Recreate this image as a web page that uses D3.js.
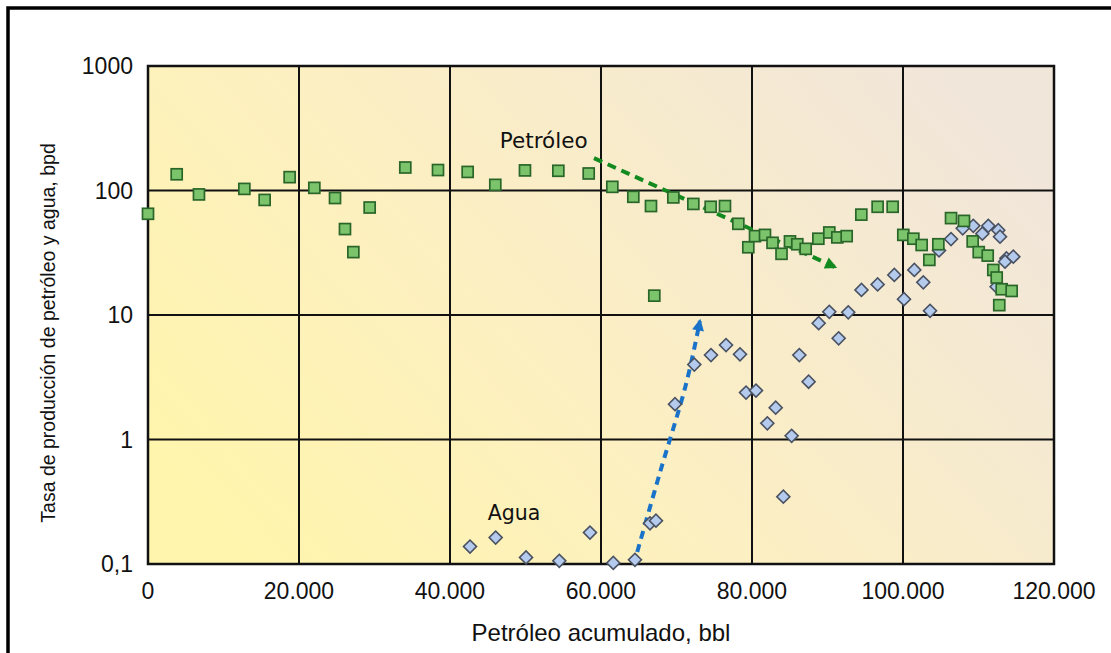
<!DOCTYPE html>
<html>
<head>
<meta charset="utf-8">
<script src="https://cdn.jsdelivr.net/npm/d3@7"></script>
<style>
  body { margin: 0; background: white; }
  svg { display: block; }
</style>
</head>
<body>
<div id="chart"></div>
<script>
// oil rate (green squares)
const oilX = [0, 3800, 6750, 12760, 15450, 18760, 22030, 24770, 26090, 27200, 29360, 34080, 38410,
  42340, 46000, 49930, 54350, 58370, 61500, 64280, 66620, 67060, 69580, 72230, 74530, 76420, 78190,
  79510, 80400, 81720, 82720, 83910, 85030, 86000, 87110, 88790, 90240, 91300, 92540, 94480, 96640,
  98630, 100040, 101370, 102470, 103490, 104680, 106360, 108080, 109230, 110030, 111220, 111960,
  112410, 113070, 114390, 112750];
const oilY = [65, 135, 93, 103, 84, 128, 105, 87, 49, 32, 73, 153, 146,
  141, 111, 145, 144, 137, 107, 89, 75, 14.3, 88, 78, 74, 75, 54,
  35, 43, 44, 38, 31, 39, 37, 34, 41, 46, 42, 43, 64, 74,
  74, 44, 41, 36.5, 27.7, 37, 60, 57, 39, 32, 30, 23,
  20, 16.1, 15.6, 12];

// water rate (blue diamonds)
const waterX = [42650, 46050, 50070, 54480, 58540, 61630, 64500, 66490, 67280, 69800, 72360, 74570,
  76560, 78410, 79210, 80530, 82030, 83140, 84150, 85250, 86270, 87500, 88830, 90240, 91480, 92750,
  94500, 96640, 98850, 100130, 101500, 102690, 103580, 104770, 106360, 107910, 109310, 110510,
  111300, 112620, 112850, 113700, 113510, 114610, 112400];
const waterY = [0.138, 0.163, 0.113, 0.106, 0.179, 0.102, 0.108, 0.212, 0.223, 1.92, 4.0, 4.77,
  5.74, 4.83, 2.38, 2.47, 1.35, 1.80, 0.347, 1.07, 4.77, 2.91, 8.6, 10.6, 6.5, 10.5,
  15.9, 17.6, 21, 13.4, 23, 18.3, 10.8, 33, 40.7, 49.7, 52, 45,
  52, 48, 42.6, 28.5, 26.8, 29.4, 16.9];

const xTicks = [0, 20000, 40000, 60000, 80000, 100000, 120000];
const yTicks = [0.1, 1, 10, 100, 1000];

// trend arrows
const oilArrowX = [59070, 90990];
const oilArrowY = [182, 24.3];
const waterArrowX = [64800, 67800, 71300, 73100];
const waterArrowY = [0.125, 0.54, 2.84, 8.95];

const W = 1111, H = 653;
const svg = d3.select("#chart").append("svg").attr("width", W).attr("height", H);

const x = d3.scaleLinear().domain([0, 120000]).range([148, 1054]);
const y = d3.scaleLog().domain([0.1, 1000]).range([564, 66]);

// outer frame
svg.append("rect")
  .attr("x", 8).attr("y", 8).attr("width", 1200).attr("height", 800)
  .attr("fill", "none").attr("stroke", "#000").attr("stroke-width", 3.5);

const defs = svg.append("defs");
const grad = defs.append("linearGradient").attr("id", "bg")
  .attr("x1", "0").attr("y1", "0.75").attr("x2", "1").attr("y2", "0.25");
grad.append("stop").attr("offset", "0").attr("stop-color", "#fff5ad");
grad.append("stop").attr("offset", "0.45").attr("stop-color", "#fcefc3");
grad.append("stop").attr("offset", "1").attr("stop-color", "#f1e6da");

const mk = (id, color) => defs.append("marker").attr("id", id)
  .attr("viewBox", "0 0 10 10").attr("refX", 8).attr("refY", 5)
  .attr("markerWidth", 4).attr("markerHeight", 3).attr("orient", "auto")
  .attr("markerUnits", "strokeWidth")
  .append("path").attr("d", "M0,0 L10,5 L0,10 z").attr("fill", color);
mk("arrG", "#138a1f");
mk("arrB", "#1a73c8");

svg.append("rect")
  .attr("x", x(0)).attr("y", y(1000))
  .attr("width", x(120000) - x(0)).attr("height", y(0.1) - y(1000))
  .attr("fill", "url(#bg)");

// grid
svg.append("g").selectAll("line").data(xTicks).join("line")
  .attr("x1", d => x(d)).attr("x2", d => x(d))
  .attr("y1", y(1000)).attr("y2", y(0.1))
  .attr("stroke", "#111").attr("stroke-width", 2);
svg.append("g").selectAll("line").data(yTicks).join("line")
  .attr("x1", x(0)).attr("x2", x(120000))
  .attr("y1", d => y(d)).attr("y2", d => y(d))
  .attr("stroke", "#111").attr("stroke-width", 2);

svg.append("rect")
  .attr("x", x(0)).attr("y", y(1000))
  .attr("width", x(120000) - x(0)).attr("height", y(0.1) - y(1000))
  .attr("fill", "none").attr("stroke", "#111").attr("stroke-width", 2.5);

// tick labels
const axisFont = "'Liberation Sans', Arial, sans-serif";
svg.append("g").selectAll("text").data(xTicks).join("text")
  .attr("x", d => x(d)).attr("y", 599)
  .attr("text-anchor", "middle")
  .attr("font-family", axisFont).attr("font-size", 23).attr("fill", "#111")
  .text(d => d3.format(",")(d).replace(/,/g, "."));
svg.append("g").selectAll("text").data(yTicks).join("text")
  .attr("x", 133).attr("y", d => y(d) + 8)
  .attr("text-anchor", "end")
  .attr("font-family", axisFont).attr("font-size", 23).attr("fill", "#111")
  .text(d => d < 1 ? "0,1" : String(d));

svg.append("text")
  .attr("x", (x(0) + x(120000)) / 2).attr("y", 641)
  .attr("text-anchor", "middle")
  .attr("font-family", axisFont).attr("font-size", 24).attr("fill", "#111")
  .text("Petróleo acumulado, bbl");
svg.append("text")
  .attr("transform", `translate(55,${(y(1000) + y(0.1)) / 2 + 18}) rotate(-90)`)
  .attr("text-anchor", "middle")
  .attr("font-family", axisFont).attr("font-size", 19.5).attr("fill", "#111")
  .text("Tasa de producción de petróleo y agua, bpd");

// arrows
svg.append("path")
  .attr("d", d3.line().x(d => x(d[0])).y(d => y(d[1]))(d3.zip(oilArrowX, oilArrowY)))
  .attr("fill", "none").attr("stroke", "#138a1f").attr("stroke-width", 4)
  .attr("stroke-dasharray", "9,6").attr("marker-end", "url(#arrG)");
svg.append("path")
  .attr("d", d3.line().curve(d3.curveCatmullRom).x(d => x(d[0])).y(d => y(d[1]))(d3.zip(waterArrowX, waterArrowY)))
  .attr("fill", "none").attr("stroke", "#1a73c8").attr("stroke-width", 4)
  .attr("stroke-dasharray", "8,6").attr("marker-end", "url(#arrB)");

// water diamonds
svg.append("g").selectAll("rect").data(d3.zip(waterX, waterY)).join("rect")
  .attr("x", -4.6).attr("y", -4.6).attr("width", 9.2).attr("height", 9.2)
  .attr("transform", d => `translate(${x(d[0])},${y(d[1])}) rotate(45)`)
  .attr("fill", "#b5cbee").attr("stroke", "#4a5262").attr("stroke-width", 1.6);

// oil squares
svg.append("g").selectAll("rect").data(d3.zip(oilX, oilY)).join("rect")
  .attr("x", d => x(d[0]) - 5.5).attr("y", d => y(d[1]) - 5.5)
  .attr("width", 11).attr("height", 11)
  .attr("fill", "#7cc46b").attr("stroke", "#2a662a").attr("stroke-width", 1.7);

// annotations
svg.append("text")
  .attr("x", x(46600)).attr("y", y(219))
  .attr("font-family", "'DejaVu Sans', Verdana, sans-serif").attr("font-size", 21.5).attr("fill", "#111")
  .text("Petróleo");
svg.append("text")
  .attr("x", x(45000)).attr("y", y(0.225))
  .attr("font-family", "'DejaVu Sans', Verdana, sans-serif").attr("font-size", 20.5).attr("fill", "#111")
  .text("Agua");
</script>
</body>
</html>
